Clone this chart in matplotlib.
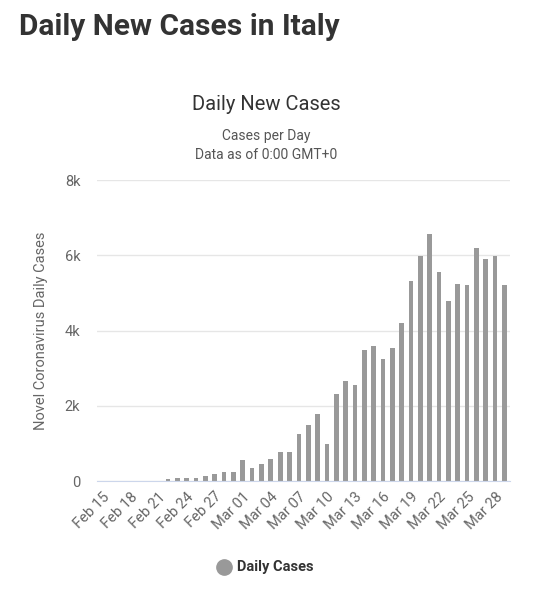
import matplotlib
matplotlib.use("Agg")
import matplotlib.pyplot as plt
import numpy as np

dates = ["Feb 15","Feb 16","Feb 17","Feb 18","Feb 19","Feb 20","Feb 21","Feb 22","Feb 23","Feb 24","Feb 25","Feb 26","Feb 27","Feb 28","Feb 29",
         "Mar 01","Mar 02","Mar 03","Mar 04","Mar 05","Mar 06","Mar 07","Mar 08","Mar 09","Mar 10","Mar 11","Mar 12","Mar 13","Mar 14","Mar 15",
         "Mar 16","Mar 17","Mar 18","Mar 19","Mar 20","Mar 21","Mar 22","Mar 23","Mar 24","Mar 25","Mar 26","Mar 27","Mar 28","Mar 29"]
cases = [0,0,0,0,0,0,17,62,76,74,93,131,202,233,240,
         566,342,466,587,769,778,1247,1492,1797,977,2313,2651,2547,3497,3590,
         3233,3526,4207,5322,5986,6557,5560,4789,5249,5210,6203,5909,5974,5217]

plt.rcParams['font.family'] = ['Roboto', 'DejaVu Sans']
fig = plt.figure(figsize=(5.33, 6.0), dpi=100)
fig.text(0.035, 0.955, "Daily New Cases in Italy", fontsize=21.5, fontweight='bold', color='#333333', va='center')
fig.text(0.5, 0.825, "Daily New Cases", fontsize=14.5, color='#333333', ha='center', va='center')
fig.text(0.5, 0.773, "Cases per Day", fontsize=10, color='#555555', ha='center', va='center')
fig.text(0.5, 0.741, "Data as of 0:00 GMT+0", fontsize=10, color='#555555', ha='center', va='center')

ax = fig.add_axes([0.182, 0.198, 0.775, 0.502])
x = np.arange(len(dates))
ax.bar(x, cases, width=0.5, color='#999999')
ax.set_ylim(0, 8000)
ax.set_xlim(-0.6, len(dates) - 0.4)
ax.set_yticks([0, 2000, 4000, 6000, 8000])
ax.set_yticklabels(["0", "2k", "4k", "6k", "8k"])
ax.set_xticks(x[::3])
ax.set_xticklabels(dates[::3], rotation=45, ha='right', rotation_mode='anchor')
ax.tick_params(axis='both', colors='#666666', labelsize=10.5, length=0)
ax.tick_params(axis='x', pad=6)
ax.tick_params(axis='y', pad=12)
ax.grid(axis='y', color='#e6e6e6', linewidth=1)
ax.set_axisbelow(True)
for s in ['top', 'right', 'left']:
    ax.spines[s].set_visible(False)
ax.spines['bottom'].set_color('#ccd6eb')
ax.set_ylabel("Novel Coronavirus Daily Cases", fontsize=10.5, color='#666666', labelpad=12)

fig.lines.append(matplotlib.lines.Line2D([0.42], [0.055], marker='o', markersize=11, color='#999999', transform=fig.transFigure))
fig.text(0.445, 0.055, "Daily Cases", fontsize=10.5, fontweight='bold', color='#333333', va='center')
fig.savefig("out.png", dpi=100)
